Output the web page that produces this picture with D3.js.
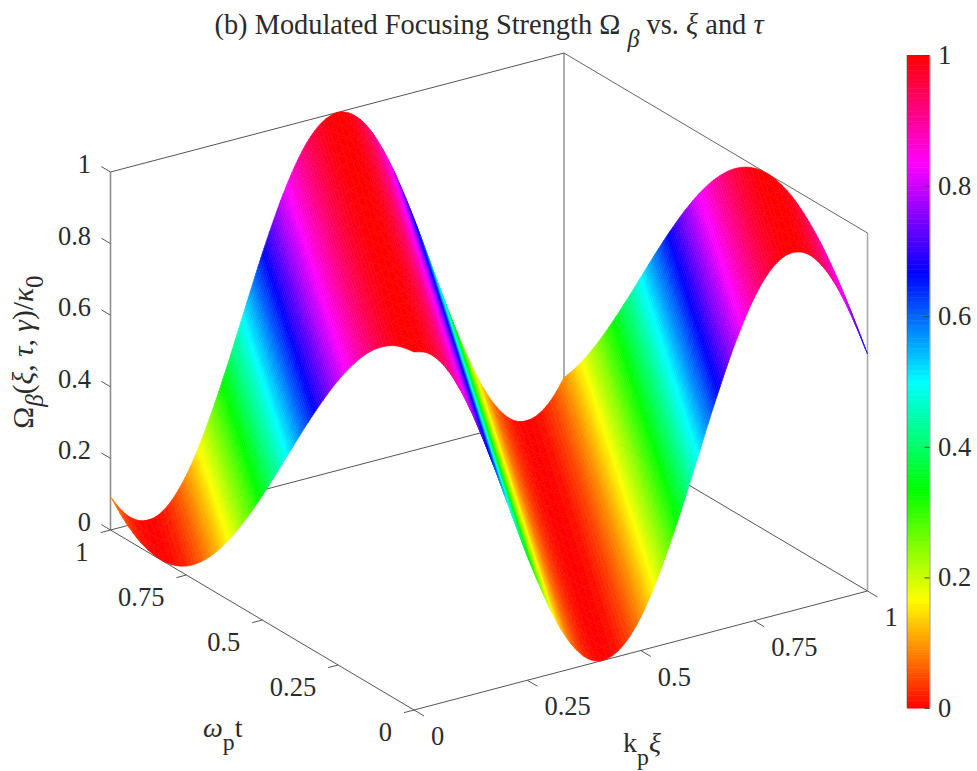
<!DOCTYPE html>
<html>
<head>
<meta charset="utf-8">
<script src="https://cdn.jsdelivr.net/npm/d3@7"></script>
<style>
  body { margin: 0; background: #fff; }
  text { font-family: "Liberation Serif", serif; fill: #2b2b2b; }
</style>
</head>
<body>
<div id="chart-area"></div>
<script>
let xTicks = [0, 0.25, 0.5, 0.75, 1];
let yTicks = [0, 0.25, 0.5, 0.75, 1];
let zTicks = [0, 0.2, 0.4, 0.6, 0.8, 1];
let colorTicks = [0, 0.2, 0.4, 0.6, 0.8, 1];

// hsv colormap, value -> colour
let mapStops = [0, 1 / 6, 2 / 6, 3 / 6, 4 / 6, 5 / 6, 1];
let mapColors = ["#ff0000", "#ffff00", "#00ff00", "#00ffff", "#0000ff", "#ff00ff", "#ff0000"];

// surface grid: kp*xi along a row, omega_p*t between rows
let xGrid = [0, 0.025, 0.05, 0.075, 0.1, 0.125, 0.15, 0.175, 0.2, 0.225, 0.25, 0.275, 0.3, 0.325, 0.35, 0.375, 0.4, 0.425, 0.45, 0.475, 0.5, 0.525, 0.55, 0.575, 0.6, 0.625, 0.65, 0.675, 0.7, 0.725, 0.75, 0.775, 0.8, 0.825, 0.85, 0.875, 0.9, 0.925, 0.95, 0.975, 1];
let yGrid = [0, 0.05, 0.1, 0.15, 0.2, 0.25, 0.3, 0.35, 0.4, 0.45, 0.5, 0.55, 0.6, 0.65, 0.7, 0.75, 0.8, 0.85, 0.9, 0.95, 1];
let zValues = [
  [1,.991,.965,.923,.865,.795,.714,.626,.533,.439,.347,.261,.183,.116,.063,.025,.004,.001,.015,.046,.093,.155,.229,.312,.402,.495,.589,.679,.763,.838,.901,.95,.983,.999,.997,.978,.941,.89,.824,.747,.662],
  [.991,1,.991,.965,.923,.865,.795,.714,.626,.533,.439,.347,.261,.183,.116,.063,.025,.004,.001,.015,.046,.093,.155,.229,.312,.402,.495,.589,.679,.763,.838,.901,.95,.983,.999,.997,.978,.941,.89,.824,.747],
  [.965,.991,1,.991,.965,.923,.865,.795,.714,.626,.533,.439,.347,.261,.183,.116,.063,.025,.004,.001,.015,.046,.093,.155,.229,.312,.402,.495,.589,.679,.763,.838,.901,.95,.983,.999,.997,.978,.941,.89,.824],
  [.923,.965,.991,1,.991,.965,.923,.865,.795,.714,.626,.533,.439,.347,.261,.183,.116,.063,.025,.004,.001,.015,.046,.093,.155,.229,.312,.402,.495,.589,.679,.763,.838,.901,.95,.983,.999,.997,.978,.941,.89],
  [.865,.923,.965,.991,1,.991,.965,.923,.865,.795,.714,.626,.533,.439,.347,.261,.183,.116,.063,.025,.004,.001,.015,.046,.093,.155,.229,.312,.402,.495,.589,.679,.763,.838,.901,.95,.983,.999,.997,.978,.941],
  [.795,.865,.923,.965,.991,1,.991,.965,.923,.865,.795,.714,.626,.533,.439,.347,.261,.183,.116,.063,.025,.004,.001,.015,.046,.093,.155,.229,.312,.402,.495,.589,.679,.763,.838,.901,.95,.983,.999,.997,.978],
  [.714,.795,.865,.923,.965,.991,1,.991,.965,.923,.865,.795,.714,.626,.533,.439,.347,.261,.183,.116,.063,.025,.004,.001,.015,.046,.093,.155,.229,.312,.402,.495,.589,.679,.763,.838,.901,.95,.983,.999,.997],
  [.626,.714,.795,.865,.923,.965,.991,1,.991,.965,.923,.865,.795,.714,.626,.533,.439,.347,.261,.183,.116,.063,.025,.004,.001,.015,.046,.093,.155,.229,.312,.402,.495,.589,.679,.763,.838,.901,.95,.983,.999],
  [.533,.626,.714,.795,.865,.923,.965,.991,1,.991,.965,.923,.865,.795,.714,.626,.533,.439,.347,.261,.183,.116,.063,.025,.004,.001,.015,.046,.093,.155,.229,.312,.402,.495,.589,.679,.763,.838,.901,.95,.983],
  [.439,.533,.626,.714,.795,.865,.923,.965,.991,1,.991,.965,.923,.865,.795,.714,.626,.533,.439,.347,.261,.183,.116,.063,.025,.004,.001,.015,.046,.093,.155,.229,.312,.402,.495,.589,.679,.763,.838,.901,.95],
  [.347,.439,.533,.626,.714,.795,.865,.923,.965,.991,1,.991,.965,.923,.865,.795,.714,.626,.533,.439,.347,.261,.183,.116,.063,.025,.004,.001,.015,.046,.093,.155,.229,.312,.402,.495,.589,.679,.763,.838,.901],
  [.261,.347,.439,.533,.626,.714,.795,.865,.923,.965,.991,1,.991,.965,.923,.865,.795,.714,.626,.533,.439,.347,.261,.183,.116,.063,.025,.004,.001,.015,.046,.093,.155,.229,.312,.402,.495,.589,.679,.763,.838],
  [.183,.261,.347,.439,.533,.626,.714,.795,.865,.923,.965,.991,1,.991,.965,.923,.865,.795,.714,.626,.533,.439,.347,.261,.183,.116,.063,.025,.004,.001,.015,.046,.093,.155,.229,.312,.402,.495,.589,.679,.763],
  [.116,.183,.261,.347,.439,.533,.626,.714,.795,.865,.923,.965,.991,1,.991,.965,.923,.865,.795,.714,.626,.533,.439,.347,.261,.183,.116,.063,.025,.004,.001,.015,.046,.093,.155,.229,.312,.402,.495,.589,.679],
  [.063,.116,.183,.261,.347,.439,.533,.626,.714,.795,.865,.923,.965,.991,1,.991,.965,.923,.865,.795,.714,.626,.533,.439,.347,.261,.183,.116,.063,.025,.004,.001,.015,.046,.093,.155,.229,.312,.402,.495,.589],
  [.025,.063,.116,.183,.261,.347,.439,.533,.626,.714,.795,.865,.923,.965,.991,1,.991,.965,.923,.865,.795,.714,.626,.533,.439,.347,.261,.183,.116,.063,.025,.004,.001,.015,.046,.093,.155,.229,.312,.402,.495],
  [.004,.025,.063,.116,.183,.261,.347,.439,.533,.626,.714,.795,.865,.923,.965,.991,1,.991,.965,.923,.865,.795,.714,.626,.533,.439,.347,.261,.183,.116,.063,.025,.004,.001,.015,.046,.093,.155,.229,.312,.402],
  [.001,.004,.025,.063,.116,.183,.261,.347,.439,.533,.626,.714,.795,.865,.923,.965,.991,1,.991,.965,.923,.865,.795,.714,.626,.533,.439,.347,.261,.183,.116,.063,.025,.004,.001,.015,.046,.093,.155,.229,.312],
  [.015,.001,.004,.025,.063,.116,.183,.261,.347,.439,.533,.626,.714,.795,.865,.923,.965,.991,1,.991,.965,.923,.865,.795,.714,.626,.533,.439,.347,.261,.183,.116,.063,.025,.004,.001,.015,.046,.093,.155,.229],
  [.046,.015,.001,.004,.025,.063,.116,.183,.261,.347,.439,.533,.626,.714,.795,.865,.923,.965,.991,1,.991,.965,.923,.865,.795,.714,.626,.533,.439,.347,.261,.183,.116,.063,.025,.004,.001,.015,.046,.093,.155],
  [.093,.046,.015,.001,.004,.025,.063,.116,.183,.261,.347,.439,.533,.626,.714,.795,.865,.923,.965,.991,1,.991,.965,.923,.865,.795,.714,.626,.533,.439,.347,.261,.183,.116,.063,.025,.004,.001,.015,.046,.093]
];

let width = 977,
  height = 771;

let svg = d3
  .select("#chart-area")
  .append("svg")
  .attr("width", width)
  .attr("height", height)
  .style("display", "block");

// soft edge on the surface, the facets should not show
svg
  .append("defs")
  .append("filter")
  .attr("id", "soft")
  .attr("filterUnits", "userSpaceOnUse")
  .attr("x", 0)
  .attr("y", 0)
  .attr("width", width)
  .attr("height", height)
  .attr("color-interpolation-filters", "sRGB")
  .append("feGaussianBlur")
  .attr("stdDeviation", 0.7);

// each data axis runs along its own screen direction from the front corner
let xAcross = d3.scaleLinear().domain([0, 1]).range([414, 867.5]);
let xDown = d3.scaleLinear().domain([0, 1]).range([0, -119]);
let yAcross = d3.scaleLinear().domain([0, 1]).range([0, -303.5]);
let yDown = d3.scaleLinear().domain([0, 1]).range([710, 530]);
let zDown = d3.scaleLinear().domain([0, 1]).range([0, -358]);

function project(x, y, z) {
  return [xAcross(x) + yAcross(y), xDown(x) + yDown(y) + zDown(z)];
}

let colormap = d3
  .scaleLinear()
  .domain(mapStops)
  .range(mapColors)
  .interpolate(d3.interpolateRgb)
  .clamp(true);

// box behind the surface
let boxLines = [
  [[0, 1, 0], [0, 1, 1], "#8f8f8f", 1.6],
  [[1, 0, 0], [1, 0, 1], "#a8a8a8", 1.6],
  [[1, 1, 0], [1, 1, 1], "#777777", 1.2],
  [[0, 1, 1], [1, 1, 1], "#555555", 1],
  [[1, 1, 1], [1, 0, 1], "#666666", 1],
  [[0, 1, 0], [1, 1, 0], "#555555", 1],
  [[1, 1, 0], [1, 0, 0], "#555555", 1],
  [[0, 0, 0], [1, 0, 0], "#555555", 1],
  [[0, 0, 0], [0, 1, 0], "#555555", 1]
];

svg
  .append("g")
  .selectAll("line")
  .data(boxLines)
  .enter()
  .append("line")
  .attr("x1", d => project(...d[0])[0])
  .attr("y1", d => project(...d[0])[1])
  .attr("x2", d => project(...d[1])[0])
  .attr("y2", d => project(...d[1])[1])
  .attr("stroke", d => d[2])
  .attr("stroke-width", d => d[3]);

// ticks
let tickSegs = []
  .concat(xTicks.map(v => [project(v, 0, 0), project(v, -0.033, 0)]))
  .concat(yTicks.map(v => [project(0, v, 0), project(-0.022, v, 0)]))
  .concat(zTicks.map(v => [project(0, 1, v), project(0, 1.03, v)]));

svg
  .append("g")
  .selectAll("line")
  .data(tickSegs)
  .enter()
  .append("line")
  .attr("x1", d => d[0][0])
  .attr("y1", d => d[0][1])
  .attr("x2", d => d[1][0])
  .attr("y2", d => d[1][1])
  .attr("stroke", "#555555")
  .attr("stroke-width", 1);

// smooth shading between grid nodes, like shading interp
function catmull(a, b, c, d, t) {
  return b + 0.5 * t * (c - a + t * (2 * a - 5 * b + 4 * c - d + t * (3 * (b - c) + d - a)));
}

function node(i, j) {
  if (i < 0) return 2 * node(0, j) - node(1, j);
  if (i >= xGrid.length) return 2 * node(xGrid.length - 1, j) - node(xGrid.length - 2, j);
  if (j < 0) return 2 * node(i, 0) - node(i, 1);
  if (j >= yGrid.length) return 2 * node(i, yGrid.length - 1) - node(i, yGrid.length - 2);
  return zValues[j][i];
}

function surfaceAt(x, y) {
  let fx = x * (xGrid.length - 1),
    fy = y * (yGrid.length - 1);
  let i = Math.min(Math.floor(fx), xGrid.length - 2),
    j = Math.min(Math.floor(fy), yGrid.length - 2);
  let rows = [-1, 0, 1, 2].map(dj =>
    catmull(node(i - 1, j + dj), node(i, j + dj), node(i + 1, j + dj), node(i + 2, j + dj), fx - i)
  );
  return catmull(rows[0], rows[1], rows[2], rows[3], fy - j);
}

// surface, far corner first. Each cell is cut along its diagonal into two
// triangles, and each triangle into thin bands so the colour looks interpolated.
let bands = [];

function addTriangle(apex, a, b) {
  let steps = Math.max(2, Math.ceil(Math.abs(a[2] - apex[2]) / 0.008));
  let at = function(p, t) {
    let x = apex[0] + (p[0] - apex[0]) * t,
      y = apex[1] + (p[1] - apex[1]) * t;
    return project(x, y, surfaceAt(x, y));
  };
  for (let s = 0; s < steps; s++) {
    let t0 = s / steps,
      t1 = (s + 1) / steps,
      tm = (t0 + t1) / 2;
    bands.push({
      points: [at(a, t0), at(b, t0), at(b, t1), at(a, t1)],
      value: surfaceAt(
        apex[0] + ((a[0] + b[0]) / 2 - apex[0]) * tm,
        apex[1] + ((a[1] + b[1]) / 2 - apex[1]) * tm
      )
    });
  }
}

for (let j = yGrid.length - 2; j >= 0; j--) {
  for (let i = xGrid.length - 2; i >= 0; i--) {
    let near = [xGrid[i], yGrid[j], zValues[j][i]];
    let far = [xGrid[i + 1], yGrid[j + 1], zValues[j + 1][i + 1]];
    let right = [xGrid[i + 1], yGrid[j], zValues[j][i + 1]];
    let left = [xGrid[i], yGrid[j + 1], zValues[j + 1][i]];
    addTriangle(right, near, far);
    addTriangle(left, near, far);
  }
}

svg
  .append("g")
  .attr("filter", "url(#soft)")
  .selectAll("polygon")
  .data(bands)
  .enter()
  .append("polygon")
  .attr("points", d => d.points.map(p => p[0].toFixed(2) + "," + p[1].toFixed(2)).join(" "))
  .attr("fill", d => colormap(d.value))
  .attr("stroke", d => colormap(d.value))
  .attr("stroke-width", 0.6);

// tick labels
svg
  .append("g")
  .selectAll("text")
  .data(xTicks)
  .enter()
  .append("text")
  .attr("x", d => project(d, 0, 0)[0] + 17)
  .attr("y", d => project(d, 0, 0)[1] + 35)
  .attr("font-size", 26.5)
  .text(d => d);

svg
  .append("g")
  .selectAll("text")
  .data(yTicks)
  .enter()
  .append("text")
  .attr("x", d => project(0, d, 0)[0] - 22)
  .attr("y", d => project(0, d, 0)[1] + 31)
  .attr("text-anchor", "end")
  .attr("font-size", 26.5)
  .text(d => d);

svg
  .append("g")
  .selectAll("text")
  .data(zTicks)
  .enter()
  .append("text")
  .attr("x", 91)
  .attr("y", d => project(0, 1, d)[1] + 1)
  .attr("text-anchor", "end")
  .attr("font-size", 26.5)
  .text(d => d);

// colorbar
let barX = 907,
  barW = 22.5;
let barY = d3.scaleLinear().domain([0, 1]).range([708, 55]);
let levels = d3.range(0, 256);

let bar = svg.append("g");
bar
  .selectAll("rect")
  .data(levels)
  .enter()
  .append("rect")
  .attr("x", barX)
  .attr("width", barW)
  .attr("y", d => barY((d + 1) / 256))
  .attr("height", (barY(0) - barY(1)) / 256 + 0.5)
  .attr("fill", d => colormap((d + 0.5) / 256));

let barAxis = d3
  .axisRight(barY)
  .tickValues(colorTicks)
  .tickFormat(d => d)
  .tickSizeInner(-5)
  .tickSizeOuter(0)
  .tickPadding(8.5);

let barG = svg
  .append("g")
  .attr("transform", "translate(" + (barX + barW) + ",0)")
  .call(barAxis);
barG.select(".domain").attr("stroke", "#555555").attr("stroke-opacity", 0.6);
barG.selectAll(".tick line").attr("stroke", "#444444");
barG
  .selectAll(".tick text")
  .attr("font-size", 26.5)
  .style("font-family", '"Liberation Serif", serif')
  .style("fill", "#2b2b2b");
svg
  .append("line")
  .attr("x1", barX)
  .attr("x2", barX)
  .attr("y1", barY(0))
  .attr("y2", barY(1))
  .attr("stroke", "#555555")
  .attr("stroke-opacity", 0.6);

// text with greek letters and subscripts: [string, italic, shift]
function richText(g, parts, size) {
  parts.forEach(function(p, i) {
    let prev = i > 0 ? parts[i - 1][2] : 0;
    g.append("tspan")
      .attr("dy", p[2] - prev)
      .attr("font-style", p[1] ? "italic" : "normal")
      .attr("font-size", p[2] ? size * 0.85 : size)
      .text(p[0]);
  });
}

richText(
  svg.append("text").attr("x", 489).attr("y", 34).attr("text-anchor", "middle").attr("xml:space", "preserve"),
  [
    ["(b) Modulated Focusing Strength Ω ", false, 0],
    ["β", true, 13],
    [" vs. ", false, 0],
    ["ξ", true, 0],
    [" and ", false, 0],
    ["τ", true, 0]
  ],
  28.4
);

richText(
  svg
    .append("text")
    .attr("transform", "translate(33,352) rotate(-90)")
    .attr("text-anchor", "middle")
    .attr("xml:space", "preserve"),
  [
    ["Ω", false, 0],
    ["β", true, 10],
    ["(", false, 0],
    ["ξ", true, 0],
    [", ", false, 0],
    ["τ", true, 0],
    [", ", false, 0],
    ["γ", true, 0],
    [")/", false, 0],
    ["κ", true, 0],
    ["0", false, 10]
  ],
  29.5
);

richText(
  svg.append("text").attr("x", 203).attr("y", 737),
  [["ω", true, 0], ["p", false, 13], ["t", false, 0]],
  28
);

richText(
  svg.append("text").attr("x", 623).attr("y", 752),
  [["k", false, 0], ["p", false, 13], ["ξ", true, 0]],
  28
);
</script>
</body>
</html>
